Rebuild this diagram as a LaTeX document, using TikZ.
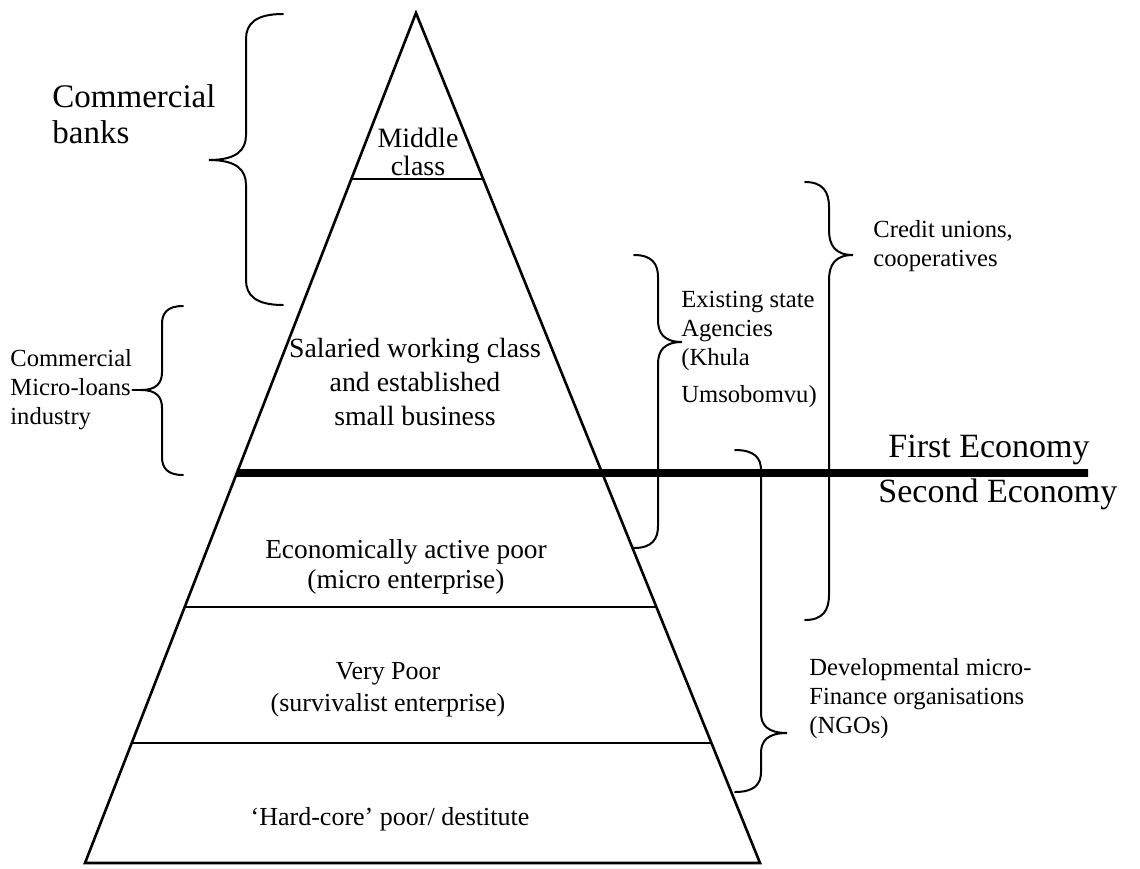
\documentclass[tikz,border=0pt]{standalone}
\usepackage{fontspec}
\setmainfont{Liberation Serif}
\usetikzlibrary{calc}
\tikzset{layer/.style={line width=1.3pt},
  divide/.style={line width=3.8pt},
  curly/.style={line width=1pt, line cap=round},
  lbl/.style={inner sep=0pt, align=center, font=\fontsize{13}{16}\selectfont},
  side/.style={inner sep=0pt, align=left, anchor=west, font=\fontsize{12.3}{14.5}\selectfont},
  big/.style={inner sep=0pt, align=left, anchor=west, font=\fontsize{17}{18}\selectfont}}

% #1 x of the ends, #2 offset of the stem, #3 top, #4 tip, #5 bottom, #6 curl
\newcommand{\curlybrace}[6]{%
  \draw[curly] (#1,#3) .. controls +({0.75*(#2)},0) and +(0,{-0.6*(#6)}) .. ({#1+(#2)},{#3+#6})
    -- ({#1+(#2)},{#4-#6}) .. controls +(0,{0.6*(#6)}) and +({-0.75*(#2)},0) .. ({#1+2*(#2)},#4)
    .. controls +({-0.75*(#2)},0) and +(0,{-0.6*(#6)}) .. ({#1+(#2)},{#4+#6})
    -- ({#1+(#2)},{#5-#6}) .. controls +(0,{0.6*(#6)}) and +({0.75*(#2)},0) .. (#1,#5);}

\begin{document}
\begin{tikzpicture}[x=0.5pt, y=-0.5pt]
\useasboundingbox (0,0) rectangle (1140,868);

% the pyramid
\coordinate (apex) at (416,13);
\coordinate (bl) at (85,863);
\coordinate (br) at (760,863);
\draw[layer] (apex) -- (bl) -- (br) -- cycle;
\foreach \y in {179,607,743} {
  \pgfmathsetmacro\t{(\y-13)/850}
  \draw[layer] ($(apex)!\t!(bl)$) -- ($(apex)!\t!(br)$);
}
\pgfmathsetmacro\t{(473-13)/850}
\coordinate (cut) at (1088,473);
\draw[divide] ($(apex)!\t!(bl)$) -- (cut);

\node[lbl, font=\fontsize{14}{14}\selectfont] (middle) at (418,152) {Middle\\class};
\node[lbl, font=\fontsize{13.9}{17}\selectfont] (salaried) at (415,382) {Salaried working class\\and established\\small business};
\node[lbl, font=\fontsize{13.7}{15}\selectfont] (active) at (406,567) {Economically active poor\\(micro enterprise)};
\node[lbl] (verypoor) at (388,690) {Very Poor\\(survivalist enterprise)};
\node[lbl] (hardcore) at (390,819) {`Hard-core' poor/ destitute};

% lenders
\node[side, font=\fontsize{16.5}{18}\selectfont] (banks) at (52,114) {Commercial\\banks};
\node[side] (loans) at (10,390) {Commercial\\Micro-loans\\industry};
\node[side] (agencies) at (681,349) {Existing state\\Agencies\\(Khula\\[4pt]Umsobomvu)};
\node[side] (credit) at (873,246) {Credit unions,\\cooperatives};
\node[side] (ngos) at (809,699) {Developmental micro-\\Finance organisations\\(NGOs)};

\node[big] (first) at (888,450) {First Economy};
\node[big] (second) at (878,494) {Second Economy};

% braces
\curlybrace{283}{-37}{14}{160}{305}{25}
\curlybrace{183}{-21}{306}{390}{475}{18}
\coordinate (looptip) at (141,390);
\draw[curly] (loans.east) -- (looptip);
\curlybrace{634}{24}{255}{342}{548}{22}
\curlybrace{805}{24}{182}{255}{620}{25}
\curlybrace{735}{26}{450}{733}{792}{20}
\end{tikzpicture}
\end{document}
